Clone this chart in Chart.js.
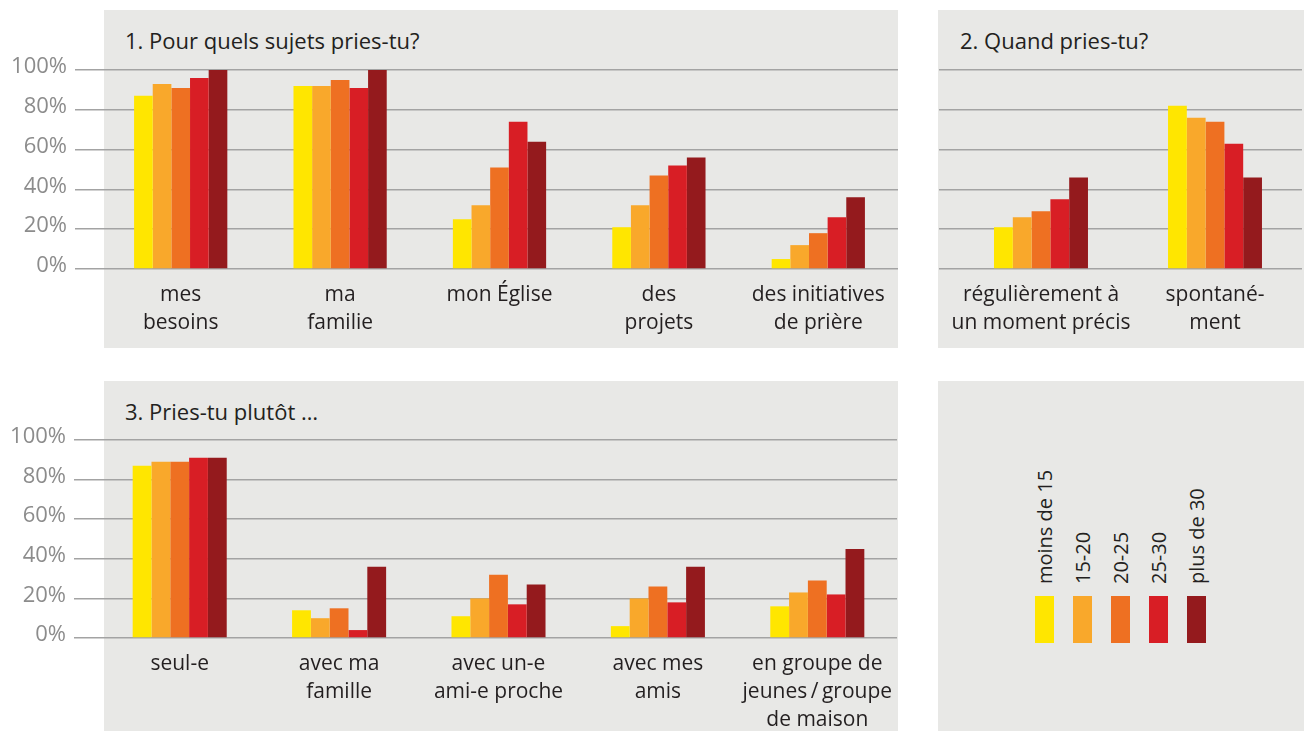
<!DOCTYPE html>
<html lang="fr">
<head>
<meta charset="utf-8">
<script src="https://cdn.jsdelivr.net/npm/chart.js@4"></script>
<style>
  html, body { margin: 0; padding: 0; background: #fff; }
  body { width: 1308px; height: 731px; position: relative; overflow: hidden; font-family: "Open Sans", sans-serif; }
  .panel { position: absolute; background: #e8e8e6; }
  .title { position: absolute; font-size: 22px; line-height: 22px; color: #231f20; white-space: nowrap; }
  canvas { position: absolute; }
  .swatch { position: absolute; width: 19px; height: 47px; }
  .legtext { position: absolute; width: 24px; height: 160px; writing-mode: vertical-rl; transform: rotate(180deg);
             font-size: 20px; line-height: 24px; color: #231f20; white-space: nowrap; }
</style>
</head>
<body>
<div class="panel" style="left:104px;top:10px;width:794px;height:338px"></div>
<div class="panel" style="left:938px;top:10px;width:366px;height:338px"></div>
<div class="panel" style="left:104px;top:381px;width:794px;height:350px"></div>
<div class="panel" id="legendPanel" style="left:938px;top:381px;width:366px;height:350px"></div>

<div class="title" style="left:125px;top:29px">1. Pour quels sujets pries-tu?</div>
<div class="title" style="left:960px;top:29px">2. Quand pries-tu?</div>
<div class="title" style="left:125px;top:400px">3. Pries-tu plutôt …</div>

<canvas id="chartSubjects" width="905" height="360" style="left:0;top:0"></canvas>
<canvas id="chartWhen" width="398" height="360" style="left:910px;top:0"></canvas>
<canvas id="chartHow" width="905" height="361" style="left:0;top:370px"></canvas>

<script>
// tranches d'âge (séries)
const ageGroups = ["moins de 15", "15-20", "20-25", "25-30", "plus de 30"];
const ageColors = ["#FFE600", "#F9A82B", "#EE7022", "#D81E25", "#941A1D"];

// 1. Pour quels sujets pries-tu?
const subjectLabels = [["mes", "besoins"], ["ma", "familie"], "mon Église", ["des", "projets"], ["des initiatives", "de prière"]];
const subjectValues = [
    [87, 92, 25, 21, 5],      // moins de 15
    [93, 92, 32, 32, 12],     // 15-20
    [91, 95, 51, 47, 18],     // 20-25
    [96, 91, 74, 52, 26],     // 25-30
    [100, 100, 64, 56, 36]    // plus de 30
];

// 2. Quand pries-tu?
const whenLabels = [["régulièrement à", "un moment précis"], ["spontané-", "ment"]];
const whenValues = [
    [21, 82],
    [26, 76],
    [29, 74],
    [35, 63],
    [46, 46]
];

// 3. Pries-tu plutôt …
const howLabels = ["seul-e", ["avec ma", "famille"], ["avec un-e", "ami-e proche"], ["avec mes", "amis"],
                   ["en groupe de", "jeunes\u2009/\u2009groupe", "de maison"]];
const howValues = [
    [87, 14, 11, 6, 16],
    [89, 10, 20, 20, 23],
    [89, 15, 32, 26, 29],
    [91, 4, 17, 18, 22],
    [91, 36, 27, 36, 45]
];

const yTicks = [0, 20, 40, 60, 80, 100];

function makeChart(id, labels, values, o) {
    return new Chart(document.getElementById(id), {
        type: "bar",
        data: {
            labels: labels,
            datasets: ageGroups.map((g, i) => ({
                label: g,
                data: values[i],
                backgroundColor: ageColors[i],
                borderWidth: 0,
                barPercentage: 1,
                categoryPercentage: o.catPct
            }))
        },
        options: {
            responsive: false,
            animation: false,
            layout: { padding: { top: o.top, right: o.right, left: 0, bottom: 0 } },
            plugins: { legend: { display: false }, tooltip: { enabled: false } },
            scales: {
                x: {
                    grid: { display: false, drawTicks: false },
                    border: { display: false },
                    ticks: {
                        color: "#231f20",
                        font: { family: "Open Sans", size: 21, lineHeight: 1.33 },
                        padding: 12,
                        maxRotation: 0,
                        autoSkip: false
                    },
                    afterFit: s => { s.height = o.xHeight; }
                },
                y: {
                    min: 0,
                    max: 100,
                    afterBuildTicks: s => { s.ticks = yTicks.map(v => ({ value: v })); },
                    grid: { color: "#a3a3a3", lineWidth: 1.5, tickLength: o.tickLen },
                    border: { display: false },
                    ticks: {
                        display: o.showY,
                        padding: 8,
                        labelOffset: -3,
                        color: "#8c8c8c",
                        font: { family: "Open Sans", size: 22 },
                        callback: v => v + "%"
                    },
                    afterFit: s => { s.width = o.yWidth; }
                }
            }
        }
    });
}

makeChart("chartSubjects", subjectLabels, subjectValues,
    { catPct: 0.585, top: 70, right: 7, xHeight: 91, tickLen: 26, yWidth: 101, showY: true });
makeChart("chartWhen", whenLabels, whenValues,
    { catPct: 0.54, top: 70, right: 6, xHeight: 91, tickLen: 15, yWidth: 44, showY: false });
makeChart("chartHow", howLabels, howValues,
    { catPct: 0.59, top: 70, right: 8, xHeight: 93, tickLen: 26, yWidth: 100, showY: true });

// légende (verticale, texte tourné)
const body = document.body;
ageGroups.forEach((g, i) => {
    const cx = 1044.5 + i * 38;
    const sw = document.createElement("div");
    sw.className = "swatch";
    sw.style.left = (cx - 9.5) + "px";
    sw.style.top = "596px";
    sw.style.background = ageColors[i];
    body.appendChild(sw);
    const t = document.createElement("div");
    t.className = "legtext";
    t.textContent = g;
    t.style.left = (cx - 12) + "px";
    t.style.top = (584 - 160) + "px";
    body.appendChild(t);
});
</script>
</body>
</html>
